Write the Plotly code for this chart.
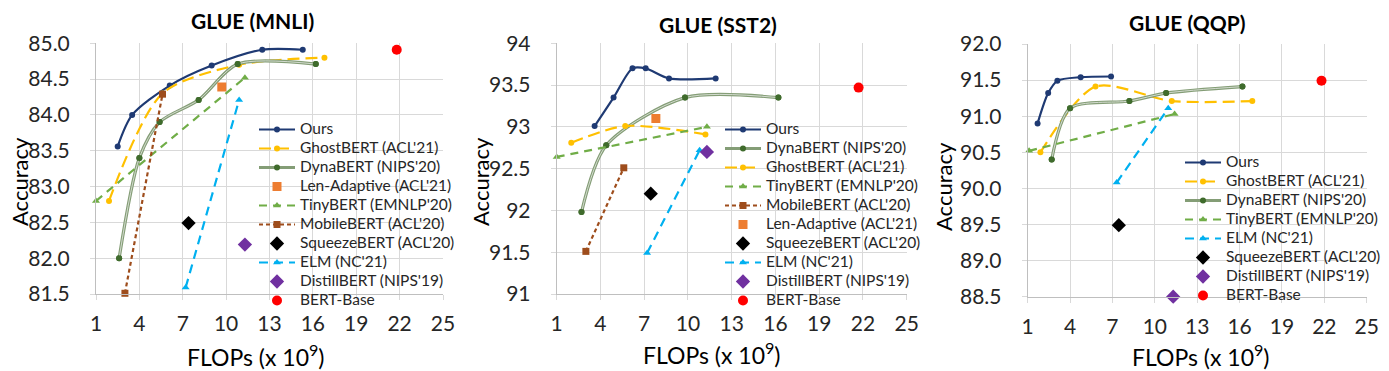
import plotly.graph_objects as go

FONT = "Lato"

# ---------------- MNLI ----------------
mnli_ours_x = [2.5, 3.5, 6.1, 9.0, 12.5, 15.3]
mnli_ours_y = [83.56, 84.0, 84.41, 84.69, 84.91, 84.91]
mnli_ghost_x = [1.9, 5.6, 10.9, 16.8]
mnli_ghost_y = [82.8, 84.3, 84.7, 84.8]
mnli_dyna_x = [2.6, 4.0, 5.4, 8.1, 10.8, 16.2]
mnli_dyna_y = [82.0, 83.4, 83.9, 84.21, 84.71, 84.71]
mnli_len_x = [9.7]
mnli_len_y = [84.39]
mnli_tiny_x = [1.0, 11.3]
mnli_tiny_y = [82.8, 84.52]
mnli_mobile_x = [3.0, 5.6]
mnli_mobile_y = [81.51, 84.29]
mnli_squeeze_x = [7.4]
mnli_squeeze_y = [82.49]
mnli_elm_x = [7.2, 10.9]
mnli_elm_y = [81.59, 84.21]
mnli_distill_x = [11.3]
mnli_distill_y = [82.19]
mnli_bert_x = [21.8]
mnli_bert_y = [84.91]

# ---------------- SST2 ----------------
sst2_ours_x = [3.6, 4.9, 6.2, 7.1, 8.7, 11.9]
sst2_ours_y = [93.01, 93.35, 93.7, 93.7, 93.58, 93.58]
sst2_dyna_x = [2.7, 4.4, 9.8, 16.2]
sst2_dyna_y = [91.98, 92.78, 93.35, 93.35]
sst2_ghost_x = [2.0, 5.7, 11.2]
sst2_ghost_y = [92.81, 93.01, 92.91]
sst2_tiny_x = [1.0, 11.3]
sst2_tiny_y = [92.64, 93.0]
sst2_mobile_x = [3.0, 5.6]
sst2_mobile_y = [91.51, 92.51]
sst2_len_x = [7.8]
sst2_len_y = [93.1]
sst2_squeeze_x = [7.45]
sst2_squeeze_y = [92.2]
sst2_elm_x = [7.2, 10.8]
sst2_elm_y = [91.49, 92.72]
sst2_distill_x = [11.3]
sst2_distill_y = [92.7]
sst2_bert_x = [21.7]
sst2_bert_y = [93.47]

# ---------------- QQP ----------------
qqp_ours_x = [1.7, 2.45, 3.1, 4.75, 6.9]
qqp_ours_y = [90.9, 91.32, 91.49, 91.54, 91.55]
qqp_ghost_x = [1.9, 5.8, 11.2, 16.9]
qqp_ghost_y = [90.5, 91.41, 91.21, 91.21]
qqp_dyna_x = [2.7, 4.0, 8.2, 10.8, 16.2]
qqp_dyna_y = [90.4, 91.11, 91.21, 91.32, 91.41]
qqp_tiny_x = [1.1, 11.4]
qqp_tiny_y = [90.52, 91.03]
qqp_elm_x = [7.3, 10.95]
qqp_elm_y = [90.08, 91.11]
qqp_squeeze_x = [7.45]
qqp_squeeze_y = [89.49]
qqp_distill_x = [11.3]
qqp_distill_y = [88.5]
qqp_bert_x = [21.8]
qqp_bert_y = [91.49]

x_tick_start = 1
x_tick_step = 3
x_range = [1, 25]

C_OURS = "#1f3a73"
C_GHOST = "#ffc000"
C_DYNA = "#849d76"
C_DYNA_IN = "#d3dbcf"
C_DYNA_M = "#3f6b2c"
C_LEN = "#ed7d31"
C_TINY = "#70ad47"
C_MOBILE = "#9e4d1c"
C_ELM = "#00b0f0"
C_DIST = "#7030a0"
C_BERT = "#ff0000"

LEG_TEXT_SIZE = 15.5

# page is rendered with the browser's default 8px body margin
OFF = 8
W, H = 1389 - OFF, 371 - OFF


def fx(px):
    return (px - OFF) / W


def fy(py):
    return 1 - (py - OFF) / H


fig = go.Figure()


def add(name, x, y, sub, leg, kind):
    xa = "x" if sub == 1 else f"x{sub}"
    ya = "y" if sub == 1 else f"y{sub}"
    label = f'<span style="font-size:{LEG_TEXT_SIZE}px">{name}</span>'
    common = dict(x=x, y=y, name=label, xaxis=xa, yaxis=ya, legend=leg, cliponaxis=False)
    if kind == "ours":
        fig.add_trace(go.Scatter(mode="lines+markers", line=dict(color=C_OURS, width=2.2, shape="spline", smoothing=0.8),
                                 marker=dict(color=C_OURS, size=6), **common))
    elif kind == "ghost":
        fig.add_trace(go.Scatter(mode="lines+markers", line=dict(color=C_GHOST, width=2.2, dash="12px,6px", shape="spline", smoothing=0.8),
                                 marker=dict(color=C_GHOST, size=6), **common))
    elif kind == "dyna":
        fig.add_trace(go.Scatter(mode="lines+markers", line=dict(color=C_DYNA, width=3.2, shape="spline", smoothing=0.8),
                                 marker=dict(color=C_DYNA_M, size=6), **common))
        c2 = dict(common)
        c2["showlegend"] = False
        c2["hoverinfo"] = "skip"
        fig.add_trace(go.Scatter(mode="lines", line=dict(color=C_DYNA_IN, width=1.0, shape="spline", smoothing=0.8), **c2))
        fig.add_trace(go.Scatter(mode="markers", marker=dict(color=C_DYNA_M, size=6), **dict(c2)))
    elif kind == "len":
        fig.add_trace(go.Scatter(mode="markers", marker=dict(color=C_LEN, size=9, symbol="square"), **common))
    elif kind == "tiny":
        fig.add_trace(go.Scatter(mode="lines+markers", line=dict(color=C_TINY, width=2.2, dash="8px,6px"),
                                 marker=dict(color=C_TINY, size=7, symbol="triangle-up"), **common))
    elif kind == "mobile":
        fig.add_trace(go.Scatter(mode="lines+markers", line=dict(color=C_MOBILE, width=2.2, dash="4px,3px"),
                                 marker=dict(color=C_MOBILE, size=7, symbol="square"), **common))
    elif kind == "squeeze":
        fig.add_trace(go.Scatter(mode="markers", marker=dict(color="#000000", size=11, symbol="diamond"), **common))
    elif kind == "elm":
        fig.add_trace(go.Scatter(mode="lines+markers", line=dict(color=C_ELM, width=2.2, dash="9px,6px"),
                                 marker=dict(color=C_ELM, size=7, symbol="triangle-up"), **common))
    elif kind == "distill":
        fig.add_trace(go.Scatter(mode="markers", marker=dict(color=C_DIST, size=11, symbol="diamond"), **common))
    elif kind == "bert":
        fig.add_trace(go.Scatter(mode="markers", marker=dict(color=C_BERT, size=10, symbol="circle"), **common))


# MNLI
add("Ours", mnli_ours_x, mnli_ours_y, 1, "legend", "ours")
add("GhostBERT (ACL'21)", mnli_ghost_x, mnli_ghost_y, 1, "legend", "ghost")
add("DynaBERT (NIPS'20)", mnli_dyna_x, mnli_dyna_y, 1, "legend", "dyna")
add("Len-Adaptive (ACL'21)", mnli_len_x, mnli_len_y, 1, "legend", "len")
add("TinyBERT (EMNLP'20)", mnli_tiny_x, mnli_tiny_y, 1, "legend", "tiny")
add("MobileBERT (ACL'20)", mnli_mobile_x, mnli_mobile_y, 1, "legend", "mobile")
add("SqueezeBERT (ACL'20)", mnli_squeeze_x, mnli_squeeze_y, 1, "legend", "squeeze")
add("ELM (NC'21)", mnli_elm_x, mnli_elm_y, 1, "legend", "elm")
add("DistillBERT (NIPS'19)", mnli_distill_x, mnli_distill_y, 1, "legend", "distill")
add("BERT-Base", mnli_bert_x, mnli_bert_y, 1, "legend", "bert")

# SST2
add("Ours", sst2_ours_x, sst2_ours_y, 2, "legend2", "ours")
add("DynaBERT (NIPS'20)", sst2_dyna_x, sst2_dyna_y, 2, "legend2", "dyna")
add("GhostBERT (ACL'21)", sst2_ghost_x, sst2_ghost_y, 2, "legend2", "ghost")
add("TinyBERT (EMNLP'20)", sst2_tiny_x, sst2_tiny_y, 2, "legend2", "tiny")
add("MobileBERT (ACL'20)", sst2_mobile_x, sst2_mobile_y, 2, "legend2", "mobile")
add("Len-Adaptive (ACL'21)", sst2_len_x, sst2_len_y, 2, "legend2", "len")
add("SqueezeBERT (ACL'20)", sst2_squeeze_x, sst2_squeeze_y, 2, "legend2", "squeeze")
add("ELM (NC'21)", sst2_elm_x, sst2_elm_y, 2, "legend2", "elm")
add("DistillBERT (NIPS'19)", sst2_distill_x, sst2_distill_y, 2, "legend2", "distill")
add("BERT-Base", sst2_bert_x, sst2_bert_y, 2, "legend2", "bert")

# QQP
add("Ours", qqp_ours_x, qqp_ours_y, 3, "legend3", "ours")
add("GhostBERT (ACL'21)", qqp_ghost_x, qqp_ghost_y, 3, "legend3", "ghost")
add("DynaBERT (NIPS'20)", qqp_dyna_x, qqp_dyna_y, 3, "legend3", "dyna")
add("TinyBERT (EMNLP'20)", qqp_tiny_x, qqp_tiny_y, 3, "legend3", "tiny")
add("ELM (NC'21)", qqp_elm_x, qqp_elm_y, 3, "legend3", "elm")
add("SqueezeBERT (ACL'20)", qqp_squeeze_x, qqp_squeeze_y, 3, "legend3", "squeeze")
add("DistillBERT (NIPS'19)", qqp_distill_x, qqp_distill_y, 3, "legend3", "distill")
add("BERT-Base", qqp_bert_x, qqp_bert_y, 3, "legend3", "bert")

GRID = "#d9d9d9"
TICKFONT = dict(family=FONT, size=21, color="#262626")


def xaxis(l, r, anchor):
    return dict(domain=[fx(l), fx(r)], range=x_range, tick0=x_tick_start, dtick=x_tick_step,
                showgrid=True, gridcolor=GRID, gridwidth=1, zeroline=False, showline=True, linecolor="#bfbfbf",
                ticks="outside", ticklen=5, tickcolor=GRID, tickfont=TICKFONT, anchor=anchor,
                ticklabelstandoff=6, automargin=False)


def yaxis(top, bot, rng, fmt, anchor):
    return dict(domain=[fy(bot), fy(top)], range=rng, dtick=0.5, tickformat=fmt,
                showgrid=True, gridcolor=GRID, gridwidth=1, zeroline=False, showline=True, linecolor="#bfbfbf",
                ticks="outside", ticklen=5, tickcolor=GRID, tickfont=TICKFONT, anchor=anchor,
                ticklabelstandoff=16, automargin=False)


def legend(xpx, ypx):
    return dict(x=fx(xpx), y=fy(ypx), xanchor="left", yanchor="top", bgcolor="rgba(0,0,0,0)",
                font=dict(family=FONT, size=12, color="#262626"), itemwidth=36, tracegroupgap=0,
                traceorder="normal")


fig.update_layout(
    width=W, height=H, margin=dict(l=0, r=0, t=0, b=0, autoexpand=False),
    paper_bgcolor="white", plot_bgcolor="white",
    font=dict(family=FONT, color="#262626"),
    xaxis=xaxis(96, 443, "y"),
    yaxis=yaxis(43.3, 294, [81.5, 85.0], ".1f", "x"),
    xaxis2=xaxis(556.7, 906.7, "y2"),
    yaxis2=yaxis(43.3, 294, [91, 94], "", "x2"),
    xaxis3=xaxis(1027.7, 1366.7, "y3"),
    yaxis3=yaxis(44, 296.7, [88.5, 92.0], ".1f", "x3"),
    legend=legend(254, 115),
    legend2=legend(720, 115),
    legend3=legend(1180, 148),
    showlegend=True,
)

titles = [("GLUE (MNLI)", 252, 20), ("GLUE (SST2)", 718, 24), ("GLUE (QQP)", 1187, 23)]
for t, xc, yc in titles:
    fig.add_annotation(text=f"<b>{t}</b>", x=fx(xc), y=fy(yc), xref="paper", yref="paper",
                       showarrow=False, xanchor="center", yanchor="middle",
                       font=dict(family=FONT, size=21, color="#000000"))

ytitles = [(20, 182), (481, 182), (943, 187)]
for xc, yc in ytitles:
    fig.add_annotation(text="Accuracy", x=fx(xc), y=fy(yc), xref="paper", yref="paper",
                       showarrow=False, xanchor="center", yanchor="middle", textangle=-90,
                       font=dict(family=FONT, size=22, color="#000000"))

xtitles = [(256, 355), (712, 353), (1201, 355)]
for xc, yc in xtitles:
    fig.add_annotation(text="FLOPs (x 10<sup>9</sup>)", x=fx(xc), y=fy(yc), xref="paper", yref="paper",
                       showarrow=False, xanchor="center", yanchor="middle",
                       font=dict(family=FONT, size=23, color="#000000"))

fig.write_html("out.html")
